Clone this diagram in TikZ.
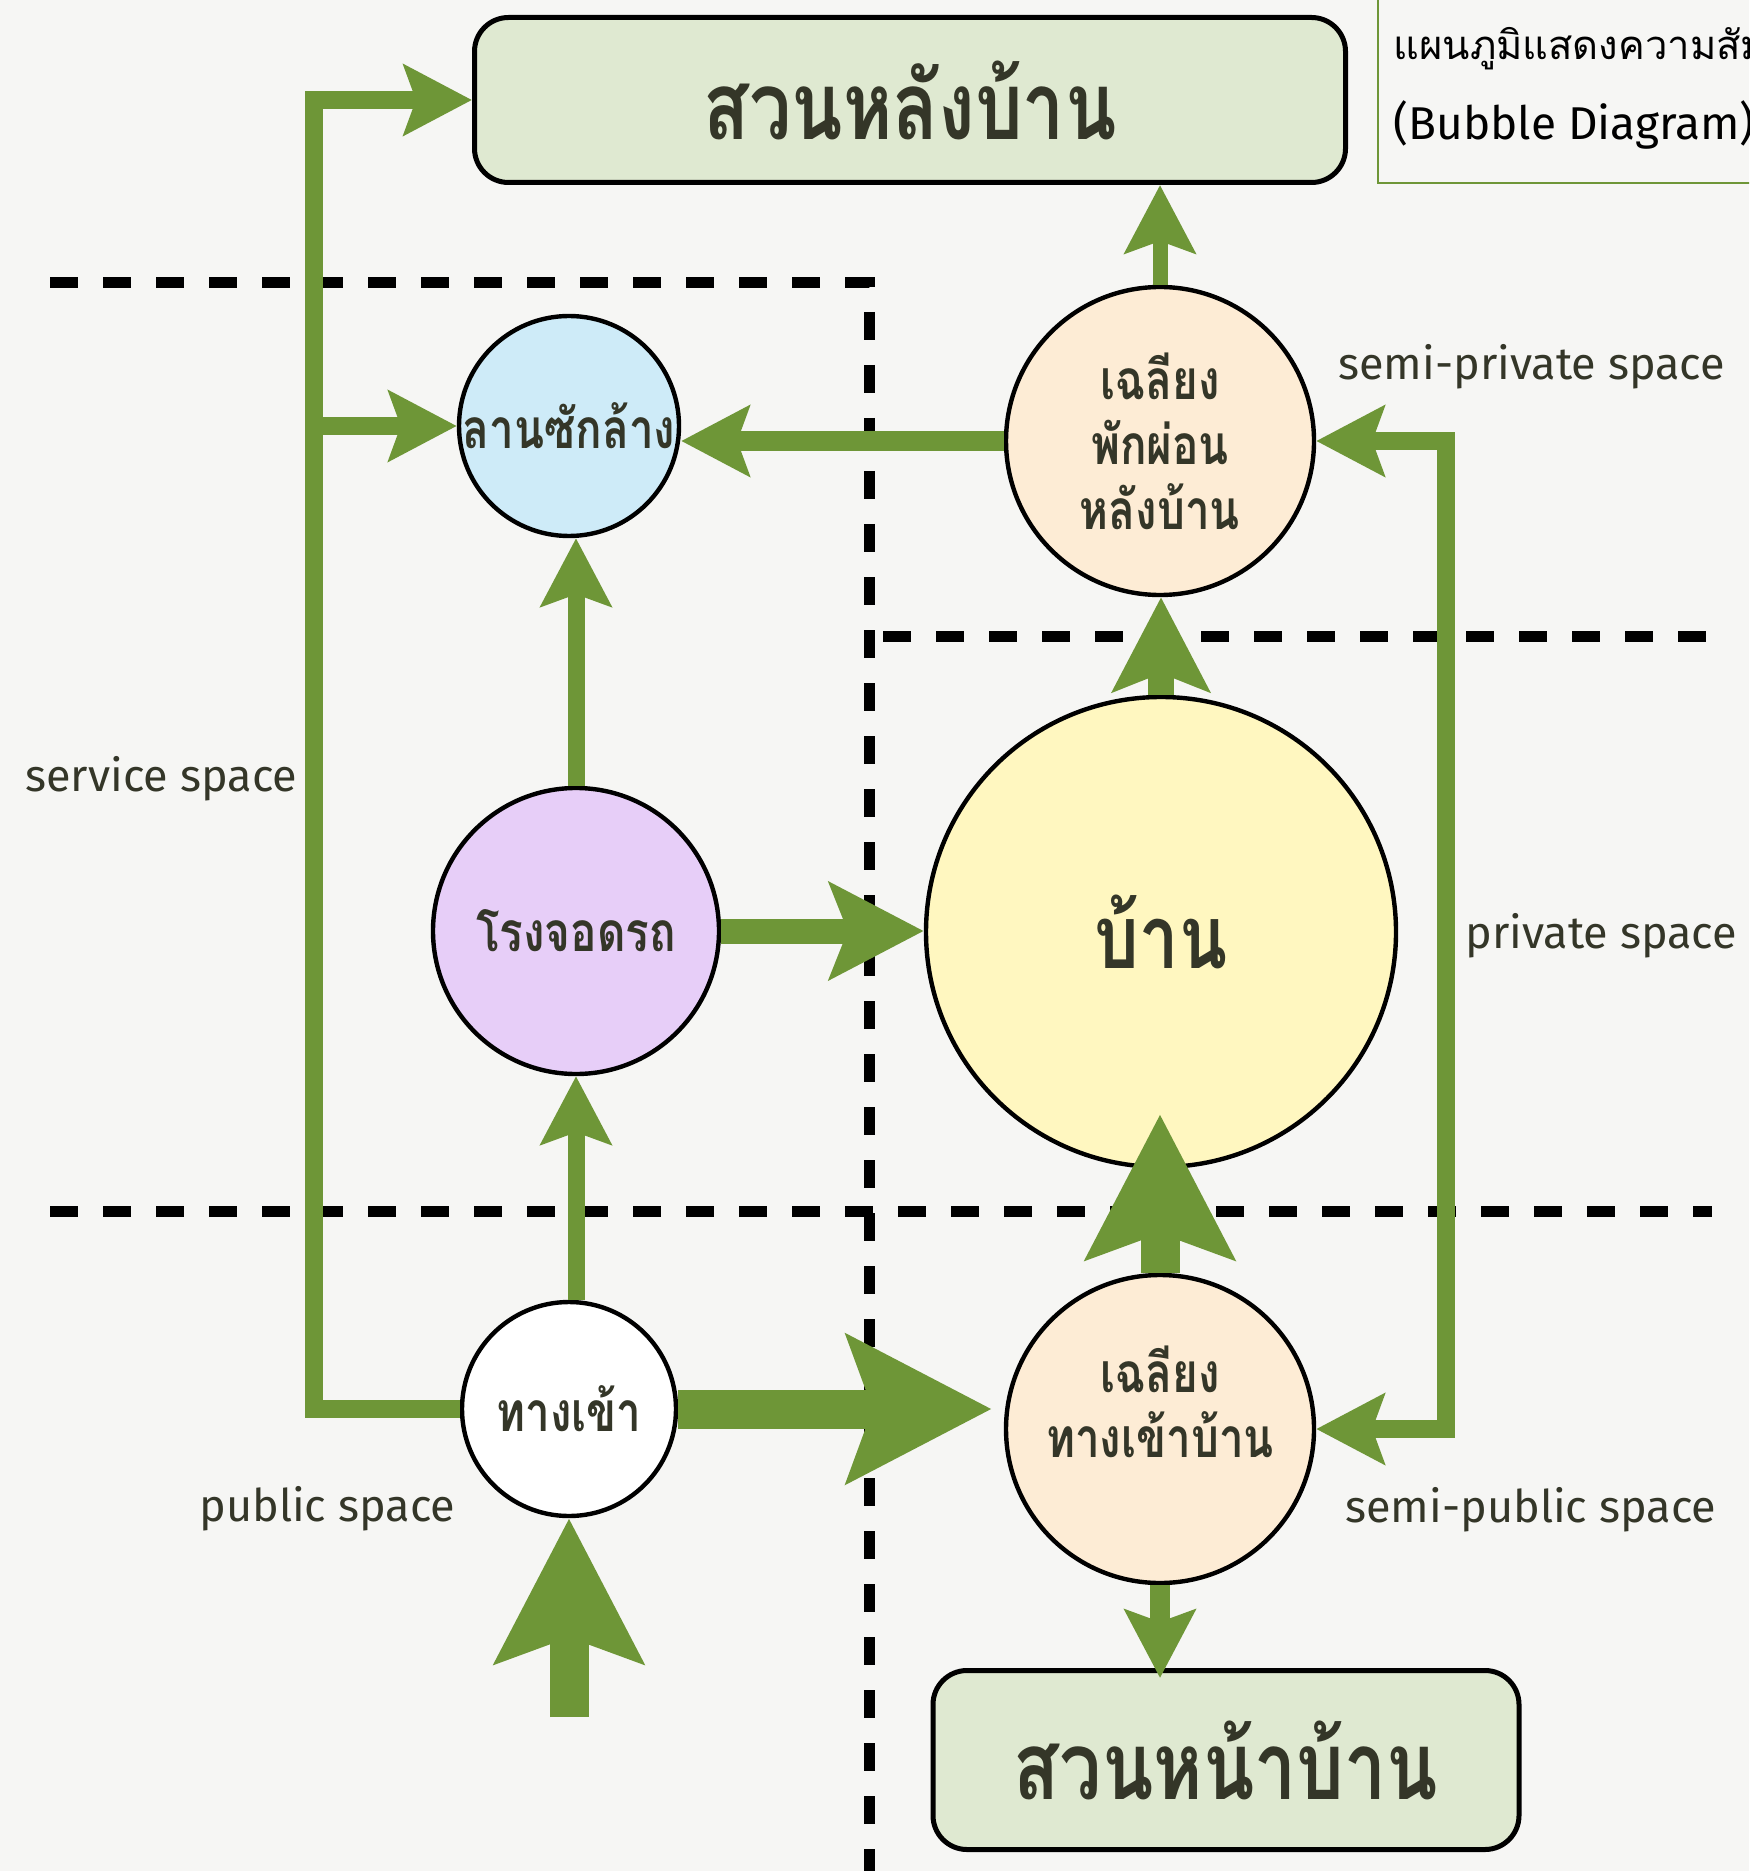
\documentclass[tikz,border=0pt]{standalone}
\usepackage{fontspec}
\setmainfont{Fira Sans}
\newfontfamily\thaifont[Script=Thai]{Loma}
\newfontfamily\thaihead[Script=Thai,FakeStretch=0.8]{Loma}
\usetikzlibrary{arrows.meta}

\definecolor{paper}{RGB}{246,246,244}
\definecolor{leaf}{RGB}{110,150,55}
\definecolor{ink}{RGB}{52,54,40}
\definecolor{lawn}{RGB}{223,233,209}
\definecolor{washblue}{RGB}{206,235,248}
\definecolor{porch}{RGB}{253,236,213}
\definecolor{garagepurple}{RGB}{231,206,248}
\definecolor{houseyellow}{RGB}{255,247,192}

\tikzset{
  leaftip/.tip={Stealth[length=34pt, width=35pt, inset=6pt]},
  widetip/.tip={Stealth[length=47pt, width=48pt, inset=9pt]},
  bigtip/.tip={Stealth[length=72pt, width=73pt, inset=12.5pt]},
  room/.style={circle, draw=black, line width=2.2pt, inner sep=0pt, align=center, text=ink,
    font=\thaihead\bfseries\fontsize{27.5}{32.5}\selectfont},
  gardenbox/.style={draw=black, line width=2.5pt, rounded corners=17pt, fill=lawn, text=ink,
    font=\thaihead\bfseries\fontsize{47}{52}\selectfont},
  zonelabel/.style={text=ink, font=\fontsize{22.5}{26}\selectfont, anchor=base west, inner sep=0pt},
  zoneline/.style={line width=5.5pt, dash pattern=on 14pt off 12.5pt},
  walk/.style={draw=leaf, line width=9pt, -leaftip},
  drive/.style={draw=leaf, line width=12.5pt, -widetip},
  mainway/.style={draw=leaf, line width=19.5pt, -bigtip},
}

\begin{document}
\begin{tikzpicture}[x=0.5pt, y=-0.5pt]
    \useasboundingbox (0,0) rectangle (1749,1871);
    \fill[paper] (0,0) rectangle (1749,1871);

    % zone borders
    \draw[zoneline] (50,283) -- (869,283) -- (869,1871);
    \draw[zoneline] (883,636) -- (1712,636);
    \draw[zoneline] (50,1211) -- (1712,1211);

    % gardens
    \node[gardenbox, minimum width=435.5pt, minimum height=82.5pt] (backyard) at (910,100) {สวนหลังบ้าน};
    \node[gardenbox, minimum width=293pt, minimum height=89.5pt] (frontyard) at (1226,1760) {สวนหน้าบ้าน};

    % rooms
    \node[room, fill=washblue, minimum size=110pt] (laundry) at (569,426) {};
    \node[room, draw=none] (laundrytext) at (569,426) {ลานซักล้าง};
    \node[room, fill=porch, minimum size=154pt] (rear) at (1160,441) {เฉลียง\\พักผ่อน\\หลังบ้าน};
    \node[room, fill=garagepurple, minimum size=143pt] (garage) at (576,931) {โรงจอดรถ};
    \node[room, fill=houseyellow, minimum size=235pt,
          font=\thaihead\bfseries\fontsize{44}{50}\selectfont] (house) at (1161,932) {บ้าน};
    \node[room, fill=white, minimum size=107pt] (entrance) at (569,1409) {ทางเข้า};
    \node[room, fill=porch, minimum size=154pt] (front) at (1160,1429) {};
    \node[room, draw=none] (fronttext) at (1160,1402) {เฉลียง\\ทางเข้าบ้าน};

    \coordinate (laundryfork) at (316,426);
    \coordinate (entryin) at (569,1717);

    % flows
    \draw[walk] (entrance.west) -- ++(-146,0) |- (backyard.west);
    \draw[walk] (laundryfork) -- (laundry.west);
    \draw[walk, line width=10pt] (rear.west) -- (rear.west -| laundry.east);
    \draw[walk, line width=8.5pt] (garage.north) -- (garage.north |- laundry.south);
    \draw[walk, line width=8.5pt] (garage.south |- entrance.north) -- (garage.south);
    \draw[drive] (garage.east) -- (garage.east -| house.west);
    \draw[walk, line width=7.5pt] (rear.north) -- (rear.north |- backyard.south);
    \draw[drive, line width=13pt] (house.north) -- (house.north |- rear.south);
    \draw[mainway, shorten >=-27.5pt] (front.north) -- (front.north |- house.south);
    \draw[mainway, shorten >=6pt] (entrance.east) -- (entrance.east -| front.west);
    \draw[mainway] (entryin) -- (entrance.south);
    \draw[walk, line width=10pt, shorten >=-5pt] (front.south) -- (front.south |- frontyard.north);
    \draw[walk, leaftip-leaftip] (rear.east) -- ++(130,0) |- (front.east);

    % zone names
    \node[zonelabel] (semipriv) at (1338,380) {semi-private space};
    \node[zonelabel] (service) at (25,791) {service space};
    \node[zonelabel] (private) at (1465,948) {private space};
    \node[zonelabel] (public) at (199,1521) {public space};
    \node[zonelabel] (semipub) at (1345,1522) {semi-public space};

    % title, cut by the page edge
    \begin{scope}
        \clip (0,0) rectangle (1749,1871);
        \draw[leaf, line width=1.2pt, fill=paper] (1378,-20) rectangle (1800,183);
        \node[zonelabel, text=black, font=\thaifont\fontsize{20}{24}\selectfont] (titleth) at (1393,60) {แผนภูมิแสดงความสัมพันธ์};
        \node[zonelabel, text=black, font=\fontsize{23}{27}\selectfont] (titleen) at (1393,140) {(Bubble Diagram)};
    \end{scope}
\end{tikzpicture}
\end{document}
